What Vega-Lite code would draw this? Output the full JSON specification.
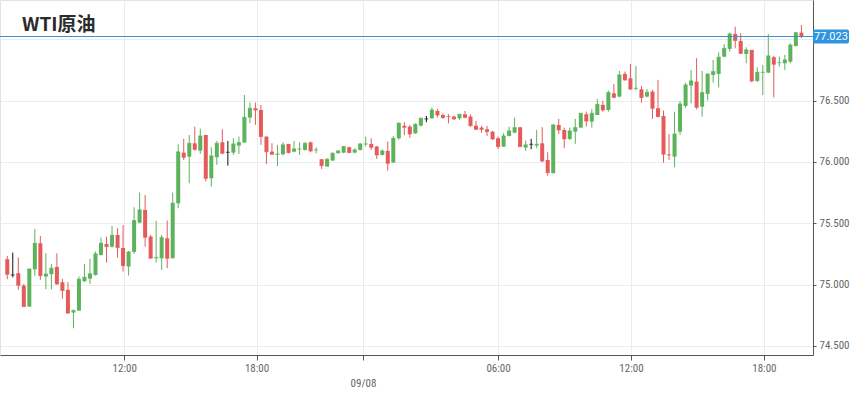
{
  "$schema": "https://vega.github.io/schema/vega-lite/v6.json",
  "autosize": {"type": "none"},
  "padding": {"left": 0, "top": 0, "right": 37, "bottom": 42},
  "width": 813,
  "height": 355,
  "background": "white",
  "title": {"text": "WTI原油", "anchor": "start", "frame": "group", "orient": "top", "offset": 0, "dx": 22, "dy": 50, "baseline": "alphabetic", "fontSize": 19, "fontWeight": "bold", "color": "#2b2b2b", "font": "Noto Sans CJK SC"},
  "config": {
    "view": {"stroke": "#e2e2e2"},
    "axis": {"labelFont": "Liberation Sans Narrow, Roboto Condensed, Roboto", "labelFontSize": 11, "labelColor": "#666666", "gridColor": "#ececec", "domainColor": "#555555", "tickColor": "#555555", "title": null}
  },
  "datasets": {
    "k": [
      {"i":0,"o":75.206,"h":75.233,"l":75.043,"c":75.084},
      {"i":1,"o":75.078,"h":75.260,"l":75.059,"c":75.078},
      {"i":2,"o":75.092,"h":75.220,"l":74.956,"c":74.994},
      {"i":3,"o":74.991,"h":75.005,"l":74.820,"c":74.820},
      {"i":4,"o":74.820,"h":75.127,"l":74.820,"c":75.127},
      {"i":5,"o":75.124,"h":75.454,"l":75.070,"c":75.337},
      {"i":6,"o":75.337,"h":75.396,"l":75.038,"c":75.073},
      {"i":7,"o":75.065,"h":75.255,"l":74.961,"c":75.086},
      {"i":8,"o":75.084,"h":75.168,"l":74.961,"c":75.133},
      {"i":9,"o":75.144,"h":75.255,"l":74.997,"c":75.005},
      {"i":10,"o":75.019,"h":75.046,"l":74.883,"c":74.951},
      {"i":11,"o":74.956,"h":75.019,"l":74.758,"c":74.768},
      {"i":12,"o":74.771,"h":74.798,"l":74.643,"c":74.787},
      {"i":13,"o":74.787,"h":75.065,"l":74.787,"c":75.043},
      {"i":14,"o":75.027,"h":75.168,"l":75.019,"c":75.059},
      {"i":15,"o":75.048,"h":75.209,"l":75.005,"c":75.087},
      {"i":16,"o":75.078,"h":75.269,"l":75.073,"c":75.250},
      {"i":17,"o":75.241,"h":75.383,"l":75.236,"c":75.337},
      {"i":18,"o":75.331,"h":75.391,"l":75.179,"c":75.309},
      {"i":19,"o":75.309,"h":75.478,"l":75.301,"c":75.402},
      {"i":20,"o":75.404,"h":75.459,"l":75.220,"c":75.301},
      {"i":21,"o":75.298,"h":75.486,"l":75.106,"c":75.154},
      {"i":22,"o":75.146,"h":75.274,"l":75.073,"c":75.266},
      {"i":23,"o":75.266,"h":75.630,"l":75.250,"c":75.522},
      {"i":24,"o":75.505,"h":75.750,"l":75.500,"c":75.609},
      {"i":25,"o":75.609,"h":75.731,"l":75.309,"c":75.386},
      {"i":26,"o":75.391,"h":75.404,"l":75.214,"c":75.214},
      {"i":27,"o":75.214,"h":75.519,"l":75.179,"c":75.220},
      {"i":28,"o":75.214,"h":75.404,"l":75.119,"c":75.383},
      {"i":29,"o":75.377,"h":75.522,"l":75.133,"c":75.214},
      {"i":30,"o":75.214,"h":75.750,"l":75.214,"c":75.663},
      {"i":31,"o":75.663,"h":76.144,"l":75.622,"c":76.082},
      {"i":32,"o":76.076,"h":76.188,"l":76.016,"c":76.038},
      {"i":33,"o":76.043,"h":76.220,"l":75.826,"c":76.152},
      {"i":34,"o":76.152,"h":76.288,"l":76.092,"c":76.103},
      {"i":35,"o":76.092,"h":76.272,"l":76.065,"c":76.212},
      {"i":36,"o":76.220,"h":76.220,"l":75.840,"c":75.867},
      {"i":37,"o":75.867,"h":76.120,"l":75.799,"c":76.049},
      {"i":38,"o":76.038,"h":76.171,"l":75.976,"c":76.152},
      {"i":39,"o":76.160,"h":76.267,"l":76.063,"c":76.071},
      {"i":40,"o":76.079,"h":76.171,"l":75.970,"c":76.079},
      {"i":41,"o":76.076,"h":76.193,"l":76.057,"c":76.147},
      {"i":42,"o":76.133,"h":76.207,"l":76.065,"c":76.158},
      {"i":43,"o":76.158,"h":76.547,"l":76.158,"c":76.364},
      {"i":44,"o":76.362,"h":76.484,"l":76.316,"c":76.438},
      {"i":45,"o":76.438,"h":76.484,"l":76.302,"c":76.424},
      {"i":46,"o":76.424,"h":76.465,"l":76.139,"c":76.207},
      {"i":47,"o":76.207,"h":76.207,"l":75.984,"c":76.084},
      {"i":48,"o":76.084,"h":76.152,"l":76.057,"c":76.063},
      {"i":49,"o":76.060,"h":76.139,"l":75.967,"c":76.065},
      {"i":50,"o":76.063,"h":76.160,"l":76.052,"c":76.139},
      {"i":51,"o":76.147,"h":76.147,"l":76.071,"c":76.076},
      {"i":52,"o":76.084,"h":76.171,"l":76.079,"c":76.106},
      {"i":53,"o":76.104,"h":76.160,"l":76.057,"c":76.106},
      {"i":54,"o":76.098,"h":76.160,"l":76.092,"c":76.152},
      {"i":55,"o":76.160,"h":76.166,"l":76.079,"c":76.090},
      {"i":56,"o":76.096,"h":76.120,"l":76.071,"c":76.098},
      {"i":57,"o":76.022,"h":76.022,"l":75.943,"c":75.970},
      {"i":58,"o":75.962,"h":76.030,"l":75.962,"c":76.022},
      {"i":59,"o":76.011,"h":76.076,"l":76.011,"c":76.071},
      {"i":60,"o":76.071,"h":76.092,"l":76.068,"c":76.090},
      {"i":61,"o":76.076,"h":76.131,"l":76.071,"c":76.125},
      {"i":62,"o":76.120,"h":76.125,"l":76.076,"c":76.076},
      {"i":63,"o":76.076,"h":76.112,"l":76.071,"c":76.098},
      {"i":64,"o":76.098,"h":76.152,"l":76.092,"c":76.147},
      {"i":65,"o":76.145,"h":76.207,"l":76.125,"c":76.147},
      {"i":66,"o":76.147,"h":76.193,"l":76.098,"c":76.120},
      {"i":67,"o":76.125,"h":76.131,"l":76.024,"c":76.057},
      {"i":68,"o":76.057,"h":76.103,"l":76.052,"c":76.090},
      {"i":69,"o":76.090,"h":76.166,"l":75.929,"c":75.989},
      {"i":70,"o":75.995,"h":76.212,"l":75.995,"c":76.193},
      {"i":71,"o":76.193,"h":76.324,"l":76.180,"c":76.315},
      {"i":72,"o":76.294,"h":76.324,"l":76.220,"c":76.283},
      {"i":73,"o":76.288,"h":76.302,"l":76.198,"c":76.228},
      {"i":74,"o":76.234,"h":76.315,"l":76.228,"c":76.307},
      {"i":75,"o":76.296,"h":76.362,"l":76.288,"c":76.356},
      {"i":76,"o":76.351,"h":76.375,"l":76.324,"c":76.351},
      {"i":77,"o":76.356,"h":76.443,"l":76.351,"c":76.424},
      {"i":78,"o":76.416,"h":76.432,"l":76.362,"c":76.383},
      {"i":79,"o":76.383,"h":76.397,"l":76.351,"c":76.362},
      {"i":80,"o":76.372,"h":76.389,"l":76.315,"c":76.370},
      {"i":81,"o":76.370,"h":76.378,"l":76.343,"c":76.351},
      {"i":82,"o":76.356,"h":76.389,"l":76.343,"c":76.389},
      {"i":83,"o":76.389,"h":76.416,"l":76.356,"c":76.364},
      {"i":84,"o":76.370,"h":76.389,"l":76.288,"c":76.296},
      {"i":85,"o":76.296,"h":76.334,"l":76.261,"c":76.266},
      {"i":86,"o":76.280,"h":76.296,"l":76.239,"c":76.266},
      {"i":87,"o":76.266,"h":76.294,"l":76.212,"c":76.247},
      {"i":88,"o":76.247,"h":76.253,"l":76.179,"c":76.188},
      {"i":89,"o":76.193,"h":76.207,"l":76.106,"c":76.125},
      {"i":90,"o":76.125,"h":76.234,"l":76.125,"c":76.212},
      {"i":91,"o":76.212,"h":76.288,"l":76.207,"c":76.253},
      {"i":92,"o":76.239,"h":76.362,"l":76.234,"c":76.280},
      {"i":93,"o":76.283,"h":76.283,"l":76.125,"c":76.125},
      {"i":94,"o":76.117,"h":76.174,"l":76.090,"c":76.139},
      {"i":95,"o":76.144,"h":76.188,"l":76.103,"c":76.144},
      {"i":96,"o":76.133,"h":76.261,"l":76.112,"c":76.144},
      {"i":97,"o":76.152,"h":76.283,"l":75.997,"c":76.008},
      {"i":98,"o":76.016,"h":76.079,"l":75.889,"c":75.913},
      {"i":99,"o":75.908,"h":76.307,"l":75.908,"c":76.302},
      {"i":100,"o":76.302,"h":76.351,"l":76.228,"c":76.261},
      {"i":101,"o":76.261,"h":76.280,"l":76.112,"c":76.188},
      {"i":102,"o":76.188,"h":76.280,"l":76.179,"c":76.253},
      {"i":103,"o":76.247,"h":76.351,"l":76.147,"c":76.280},
      {"i":104,"o":76.280,"h":76.397,"l":76.280,"c":76.397},
      {"i":105,"o":76.389,"h":76.411,"l":76.288,"c":76.334},
      {"i":106,"o":76.329,"h":76.430,"l":76.280,"c":76.397},
      {"i":107,"o":76.383,"h":76.514,"l":76.383,"c":76.470},
      {"i":108,"o":76.465,"h":76.498,"l":76.410,"c":76.424},
      {"i":109,"o":76.424,"h":76.582,"l":76.410,"c":76.566},
      {"i":110,"o":76.560,"h":76.636,"l":76.519,"c":76.527},
      {"i":111,"o":76.533,"h":76.742,"l":76.527,"c":76.710},
      {"i":112,"o":76.718,"h":76.737,"l":76.663,"c":76.669},
      {"i":113,"o":76.682,"h":76.799,"l":76.587,"c":76.595},
      {"i":114,"o":76.598,"h":76.783,"l":76.582,"c":76.601},
      {"i":115,"o":76.593,"h":76.620,"l":76.484,"c":76.525},
      {"i":116,"o":76.533,"h":76.595,"l":76.527,"c":76.568},
      {"i":117,"o":76.574,"h":76.587,"l":76.351,"c":76.438},
      {"i":118,"o":76.438,"h":76.669,"l":76.364,"c":76.370},
      {"i":119,"o":76.375,"h":76.419,"l":75.995,"c":76.063},
      {"i":120,"o":76.060,"h":76.228,"l":76.016,"c":76.057},
      {"i":121,"o":76.043,"h":76.410,"l":75.956,"c":76.228},
      {"i":122,"o":76.247,"h":76.498,"l":76.220,"c":76.473},
      {"i":123,"o":76.457,"h":76.647,"l":76.443,"c":76.628},
      {"i":124,"o":76.623,"h":76.750,"l":76.478,"c":76.661},
      {"i":125,"o":76.655,"h":76.846,"l":76.430,"c":76.446},
      {"i":126,"o":76.451,"h":76.742,"l":76.370,"c":76.566},
      {"i":127,"o":76.555,"h":76.718,"l":76.500,"c":76.718},
      {"i":128,"o":76.710,"h":76.832,"l":76.647,"c":76.737},
      {"i":129,"o":76.718,"h":76.894,"l":76.606,"c":76.854},
      {"i":130,"o":76.859,"h":76.962,"l":76.854,"c":76.927},
      {"i":131,"o":76.922,"h":77.055,"l":76.900,"c":77.044},
      {"i":132,"o":77.044,"h":77.104,"l":76.927,"c":76.990},
      {"i":133,"o":76.987,"h":77.050,"l":76.881,"c":76.886},
      {"i":134,"o":76.881,"h":76.935,"l":76.805,"c":76.914},
      {"i":135,"o":76.914,"h":76.914,"l":76.650,"c":76.661},
      {"i":136,"o":76.661,"h":76.772,"l":76.650,"c":76.731},
      {"i":137,"o":76.729,"h":76.791,"l":76.546,"c":76.731},
      {"i":138,"o":76.729,"h":77.044,"l":76.723,"c":76.865},
      {"i":139,"o":76.854,"h":76.865,"l":76.525,"c":76.797},
      {"i":140,"o":76.808,"h":76.859,"l":76.778,"c":76.810},
      {"i":141,"o":76.805,"h":76.873,"l":76.750,"c":76.832},
      {"i":142,"o":76.818,"h":76.968,"l":76.805,"c":76.954},
      {"i":143,"o":76.946,"h":77.055,"l":76.941,"c":77.055},
      {"i":144,"o":77.055,"h":77.117,"l":77.009,"c":77.023}
    ],
    "last": [{"price": 77.023, "label": "77.023"}]
  },
  "layer": [
    {
      "data": {"name": "k"},
      "mark": {"type": "rule", "strokeWidth": 1},
      "encoding": {
        "x": {"field": "i", "type": "quantitative", "scale": {"domain": [-0.41, 145.2], "nice": false, "zero": false},
          "axis": {"orient": "bottom", "values": [21.2, 45.2, 64.5, 89, 113.1, 137.2], "grid": true, "tickSize": 5, "labelPadding": 2, "labelLineHeight": 15, "domainWidth": 1,
            "labelExpr": "datum.value < 30 ? '12:00' : datum.value < 50 ? '18:00' : datum.value < 70 ? ['', '09/08'] : datum.value < 100 ? '06:00' : datum.value < 120 ? '12:00' : '18:00'"}},
        "y": {"field": "l", "type": "quantitative", "scale": {"domain": [74.425, 77.321], "nice": false, "zero": false},
          "axis": {"orient": "right", "values": [74.5, 75, 75.5, 76, 76.5, 77], "format": ".3f", "grid": true, "tickSize": 3, "labelPadding": 3}},
        "y2": {"field": "h"},
        "color": {"condition": [{"test": "datum.c > datum.o", "value": "#5cb35c"}, {"test": "datum.c < datum.o", "value": "#e55b5b"}], "value": "#111111"}
      }
    },
    {
      "data": {"name": "k"},
      "mark": {"type": "tick", "orient": "horizontal", "size": 4, "thickness": 1},
      "encoding": {
        "x": {"field": "i", "type": "quantitative"},
        "y": {"field": "c", "type": "quantitative"},
        "color": {"condition": [{"test": "datum.c > datum.o", "value": "#5cb35c"}, {"test": "datum.c < datum.o", "value": "#e55b5b"}], "value": "#111111"}
      }
    },
    {
      "data": {"name": "k"},
      "mark": {"type": "bar", "width": 4},
      "encoding": {
        "x": {"field": "i", "type": "quantitative"},
        "y": {"field": "o", "type": "quantitative"},
        "y2": {"field": "c"},
        "color": {"condition": [{"test": "datum.c > datum.o", "value": "#5cb35c"}, {"test": "datum.c < datum.o", "value": "#e55b5b"}], "value": "#111111"}
      }
    },
    {
      "data": {"name": "last"},
      "mark": {"type": "rule", "color": "#3d8fcf", "strokeWidth": 1},
      "encoding": {"y": {"field": "price", "type": "quantitative"}}
    },
    {
      "data": {"name": "last"},
      "mark": {"type": "point", "filled": true, "opacity": 1, "color": "#2f95e0", "size": 400, "xOffset": 18, "clip": false,
        "shape": "M-1.6,-0.7H1.6A0.2,0.2 0 0 1 1.8,-0.5V0.5A0.2,0.2 0 0 1 1.6,0.7H-1.6A0.2,0.2 0 0 1 -1.8,0.5V-0.5A0.2,0.2 0 0 1 -1.6,-0.7Z"},
      "encoding": {"x": {"value": "width"}, "y": {"field": "price", "type": "quantitative"}}
    },
    {
      "data": {"name": "last"},
      "mark": {"type": "text", "color": "white", "fontSize": 11, "font": "Liberation Sans Narrow, Roboto", "align": "center", "baseline": "middle", "xOffset": 18, "clip": false},
      "encoding": {"x": {"value": "width"}, "y": {"field": "price", "type": "quantitative"}, "text": {"field": "label"}}
    }
  ]
}
